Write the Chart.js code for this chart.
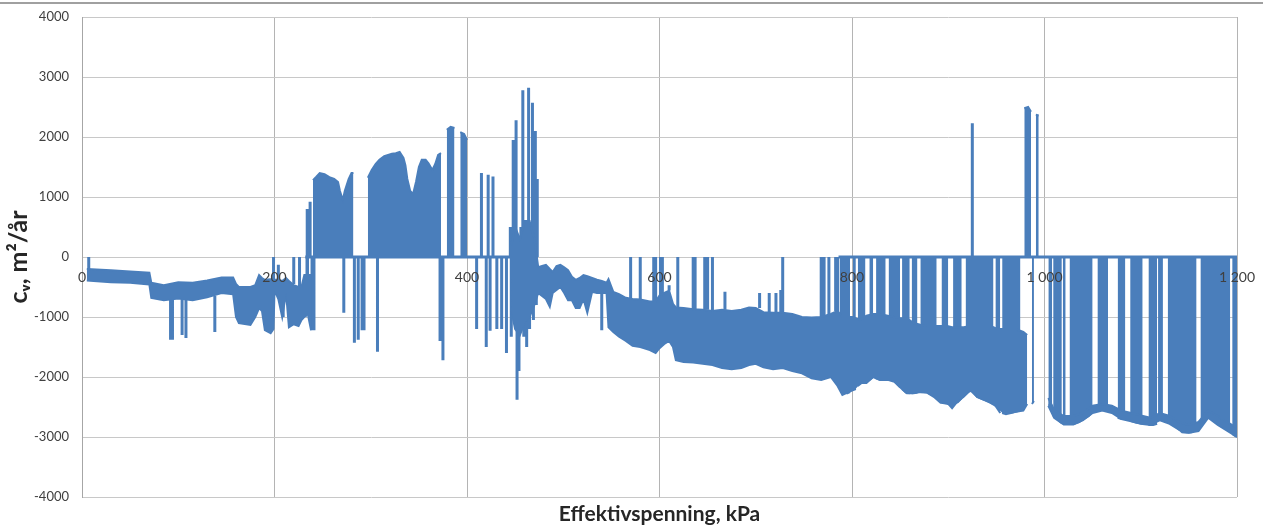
<!DOCTYPE html>
<html>
<head>
<meta charset="utf-8">
<script src="https://cdn.jsdelivr.net/npm/chart.js@4.4.0/dist/chart.umd.min.js"></script>
<style>
  html, body { margin: 0; padding: 0; background: #ffffff; }
  #wrap { position: relative; width: 1263px; height: 529px; }
  #topline { position: absolute; left: 0; top: 2px; width: 1263px; height: 2px; background: #a0a0a0; }
  canvas { position: absolute; left: 0; top: 0; }
</style>
</head>
<body>
<div id="wrap">
  <canvas id="cvChart" width="1263" height="529"></canvas>
  <div id="topline"></div>
</div>
<script>
// =============== DATA ===============
const xTickLabels = ['0', '200', '400', '600', '800', '1 000', '1 200'];
const yTickLabels = ['-4000', '-3000', '-2000', '-1000', '0', '1000', '2000', '3000', '4000'];

// dense band of the series: upper and lower envelope (null = break)
const bandX = [5, 30, 50, 70, 72, 85, 100, 115, 130, 145, 157, 160, 163, 175, 180, 184, 187, 190, 196, 199,
  200, 204, 208, 212, 215, 220, 225, 228, 231, 234, 238, 238,
  446, 450, 455, 460, 465, 470, 474, 478, 482, 486, 489, 493, 497, 501, 505, 509, 513, 517, 521, 525, 530, 535, 540, 545,
  547, 552, 558, 565, 572, 580, 590, 596, 600, 605, 610, 614, 617, 625, 635, 645, 655, 665, 675, 685, 693, 700, 708, 718,
  728, 738, 748, 758, 768, 778, 785, 790, 794, 801, 808, 815, 822, 829, 843, 850, 857, 864, 871, 878, 885, 892, 899, 904,
  909, 916, 923, 930, 937, 944, 951, 958, 964, 970, 978, 982, 982,
  1004, 1010, 1020, 1030, 1040, 1050, 1060, 1070, 1080, 1090, 1100, 1110, 1120, 1130, 1140, 1150, 1160, 1170, 1180, 1190, 1200];
const bandHi = [-200, -220, -240, -260, -430, -470, -420, -430, -390, -340, -340, -450, -500, -500, -470, -300, -350, -380, -370, -380,
  -380, -380, -400, -350, -400, -470, -500, -500, -300, -300, -300, null,
  200, 500, 300, 600, 600, 300, -170, -150, -130, -200, -250, -150, -130, -170, -220, -330, -380, -350, -300, -320, -350, -380, -400, -430,
  -370, -580, -620, -680, -700, -710, -740, -740, -640, -600, -560, -780, -840, -850, -870, -880, -900, -880, -900, -880, -840, -850, -920, -930,
  -930, -950, -1000, -1010, -1000, -950, -900, -1000, -1000, -1000, -1050, -980, -950, -950, -1000, -1020, -1020, -1100, -1130, -1150, -1150, -1150, -1150, -1170,
  -1170, -1170, -1150, -1150, -1150, -1150, -1200, -1200, -1200, -1200, -1250, -1300, null,
  -2350, -2550, -2650, -2650, -2600, -2480, -2450, -2480, -2560, -2600, -2640, -2680, -2600, -2650, -2750, -2800, -2750, -2560, -2650, -2750, -2850];
const bandLo = [-390, -420, -430, -460, -680, -720, -690, -720, -670, -600, -620, -1000, -1100, -1130, -1000, -850, -900, -1220, -1270, -1200,
  -550, -700, -1000, -600, -1170, -1120, -1150, -1050, -1000, -900, -1220, null,
  -900, -1200, -1300, -1100, -1000, -800, -600, -650, -700, -830, -600, -550, -500, -600, -720, -720, -850, -850, -700, -930, -580, -600, -600, -600,
  -1170, -1250, -1330, -1400, -1480, -1500, -1550, -1600, -1520, -1450, -1400, -1500, -1720, -1750, -1760, -1780, -1800, -1850, -1870, -1850, -1800, -1780, -1840, -1870,
  -1850, -1900, -1940, -2020, -2050, -2000, -2150, -2300, -2270, -2220, -2100, -2100, -2000, -2050, -2050, -2170, -2270, -2270, -2250, -2260, -2330, -2430, -2430, -2520,
  -2420, -2330, -2220, -2330, -2380, -2430, -2500, -2600, -2600, -2580, -2560, -2450, null,
  -2480, -2680, -2790, -2790, -2720, -2600, -2560, -2600, -2700, -2740, -2780, -2800, -2720, -2780, -2880, -2930, -2900, -2680, -2800, -2900, -3000];

// solid blocks that run from 0 to the value (null = break)
const colX = [232, 236, 236,
  240, 243, 247, 252, 257, 262, 266, 268, 271, 273, 277, 280, 282, 282,
  297, 301, 305, 309, 314, 318, 322, 326, 330, 334, 336, 338, 341, 344, 347, 350, 353, 357, 360, 364, 367, 370, 373, 373,
  379, 383, 387, 387, 393, 397, 400, 400,
  787, 791, 795, 798, 798, 801, 804, 804, 806, 810, 814, 814, 818, 822, 822, 825, 830, 835, 835, 838, 844, 850, 850,
  852, 856, 860, 860, 862, 868, 868, 871, 878, 883, 888, 888, 893, 900, 900, 905, 910, 914, 914,
  918, 925, 930, 936, 941, 947, 947, 949, 954, 954, 956, 960, 965, 970, 975, 975,
  979, 983, 986, 986, 987, 989, 989, 991, 994, 994,
  1004, 1008, 1008, 1009, 1013, 1018, 1018, 1019, 1022, 1022, 1026, 1031, 1036, 1041, 1046, 1050, 1050,
  1055, 1060, 1066, 1066, 1076, 1080, 1084, 1084, 1089, 1095, 1102, 1102, 1108, 1113, 1117, 1117, 1118, 1123, 1123,
  1128, 1133, 1138, 1143, 1148, 1153, 1158, 1158, 1162, 1167, 1172, 1177, 1182, 1187, 1193, 1193, 1195, 1198, 1200];
const colY = [-1000, -900, null,
  1280, 1330, 1400, 1380, 1330, 1300, 1250, 1100, 950, 1100, 1300, 1400, 1400, null,
  1320, 1450, 1550, 1620, 1680, 1700, 1720, 1730, 1750, 1650, 1530, 1300, 1100, 1050, 1250, 1500, 1620, 1620, 1560, 1450, 1550, 1700, 1730, null,
  2120, 2170, 2150, null, 2080, 2050, 1950, null,
  -2000, -2200, -2270, -2250, null, -2220, -2200, null, -2150, -2100, -2100, null, -2050, -2000, null, -2020, -2050, -2050, null, -2050, -2080, -2170, null,
  -2200, -2260, -2270, null, -2270, -2260, null, -2250, -2260, -2300, -2350, null, -2430, -2450, null, -2450, -2420, -2350, null,
  -2250, -2230, -2330, -2370, -2400, -2450, null, -2480, -2600, null, -2600, -2620, -2600, -2580, -2560, null,
  2480, 2500, 2420, null, -2450, -2400, null, 2370, 2360, null,
  -2470, -2470, null, -2650, -2700, -2770, null, -2780, -2780, null, -2770, -2780, -2750, -2700, -2650, -2580, null,
  -2560, -2540, -2560, null, -2680, -2700, -2700, null, -2730, -2760, -2780, null, -2800, -2800, -2780, null, -2720, -2700, null,
  -2720, -2780, -2850, -2920, -2930, -2920, -2880, null, -2750, -2700, -2650, -2750, -2800, -2820, -2900, null, -2950, -2980, -3000];

// single vertical strokes: x, from, to
const spikeX = [7, 92, 94, 104, 108, 138, 199, 204, 209, 220, 226, 234, 237, 239, 241,
  272, 283, 287, 291, 293, 307, 372, 375,
  410, 415, 420, 422, 424, 427, 431, 436, 441,
  445, 446, 448, 451, 452, 454, 456, 458, 459, 462, 464, 465, 468, 469, 471, 472, 473,
  540, 570, 580, 594, 596, 601, 603, 610, 619, 635, 637, 647, 650, 655, 668, 704, 714, 721, 726, 728,
  768, 771, 776, 783, 785, 925];
const spikeFrom = [-350, -700, -700, -700, -700, -650, -380, -380, -600, -450, -500, 0, 0, 0, 0,
  0, 0, 0, 0, 0, 0, 0, 0,
  0, 0, 0, 0, 0, 0, 0, 0, 0,
  0, 0, 0, 0, 0, 0, 0, 0, 0, 0, 0, 0, 0, 0, 0, 0, 0,
  -400, -700, -710, -740, -740, -640, -620, -560, -840, -870, -870, -880, -880, -900, -880, -850, -930, -930, -930, -930,
  -1000, -1000, -950, -900, -900, 0];
const spikeTo = [0, -1380, -1380, -1300, -1350, -1250, 0, -130, -1000, 0, 0, 800, 920, -1220, -1220,
  -930, -1430, -1380, -1220, -1220, -1580, -1400, -1720,
  -1200, 1400, -1500, 1370, -1230, 1340, -1200, -1200, -1600,
  500, -1330, 1950, 2280, -2380, -1900, 500, 2780, -1330, -1500, 2820, -1200, 2570, -1050, 2100, -800, 1300,
  -1220, 0, 0, 0, 0, 0, 0, -470, 0, 0, 0, 0, 0, 0, -580, -600, -600, -600, -550, 0,
  0, 0, 0, 0, 0, 2230];

// stretches where the series lies on 0
const zeroFrom = [232, 786];
const zeroTo = [445, 1200];

// =============== BUILD POINTS ===============
function pts(xs, ys) {
  return xs.map((x, i) => ({ x: x, y: ys[i] }));
}
const spikePts = [];
spikeX.forEach((x, i) => {
  spikePts.push({ x: x, y: spikeFrom[i] }, { x: x, y: spikeTo[i] }, { x: x, y: null });
});
const zeroPts = [];
zeroFrom.forEach((a, i) => {
  zeroPts.push({ x: a, y: 0 }, { x: zeroTo[i], y: 0 }, { x: zeroTo[i], y: null });
});

const blue = '#4a7ebb';
const fontFam = "Lato, 'Open Sans', 'DejaVu Sans', sans-serif";

const common = {
  borderColor: blue,
  backgroundColor: blue,
  pointRadius: 0,
  tension: 0,
  spanGaps: false
};

// =============== CHART ===============
new Chart(document.getElementById('cvChart'), {
  type: 'line',
  data: {
    datasets: [
      Object.assign({ data: pts(bandX, bandHi), borderWidth: 2, fill: '+1' }, common),
      Object.assign({ data: pts(bandX, bandLo), borderWidth: 2, fill: false }, common),
      Object.assign({ data: pts(colX, colY), borderWidth: 2, fill: 'origin' }, common),
      Object.assign({ data: spikePts, borderWidth: 3, fill: false }, common),
      Object.assign({ data: zeroPts, borderWidth: 3, fill: false }, common)
    ]
  },
  options: {
    responsive: false,
    animation: false,
    layout: { padding: { left: 0, right: 26, top: 17, bottom: 0 } },
    plugins: {
      legend: { display: false },
      tooltip: { enabled: false }
    },
    scales: {
      // tick labels sit on the zero line, drawn above the series
      x: {
        type: 'linear',
        position: { y: 0 },
        min: 0,
        max: 1200,
        grid: { display: false, drawTicks: true, tickLength: 10, tickColor: 'rgba(0,0,0,0)' },
        border: { display: false },
        ticks: {
          z: 1,
          stepSize: 200,
          padding: 2,
          color: '#404040',
          font: { family: fontFam, size: 14 },
          callback: (v) => xTickLabels[Math.round(v / 200)]
        }
      },
      // vertical grid lines and the axis title
      xt: {
        type: 'linear',
        position: 'bottom',
        min: 0,
        max: 1200,
        grid: { color: '#b4b4b4', drawTicks: false },
        border: { display: false },
        ticks: { display: false, stepSize: 200 },
        title: {
          display: true,
          text: 'Effektivspenning, kPa',
          color: '#262626',
          font: { family: fontFam, size: 21, weight: 'bold' },
          padding: { top: 4, bottom: 2 }
        },
        afterFit: (s) => { s.height = 32; }
      },
      y: {
        min: -4000,
        max: 4000,
        grid: { color: '#c8c8c8', drawTicks: true, tickLength: 9, tickColor: 'rgba(0,0,0,0)' },
        border: { color: '#a6a6a6' },
        ticks: {
          stepSize: 1000,
          padding: 4,
          color: '#404040',
          font: { family: fontFam, size: 13 },
          callback: (v) => yTickLabels[Math.round((v + 4000) / 1000)]
        },
        title: {
          display: true,
          text: 'cᵥ, m²/år',
          color: '#262626',
          font: { family: fontFam, size: 25, weight: 'bold' },
          padding: { top: 4, bottom: 0 }
        },
        afterFit: (s) => { s.width = 82; }
      }
    }
  }
});
</script>
</body>
</html>
